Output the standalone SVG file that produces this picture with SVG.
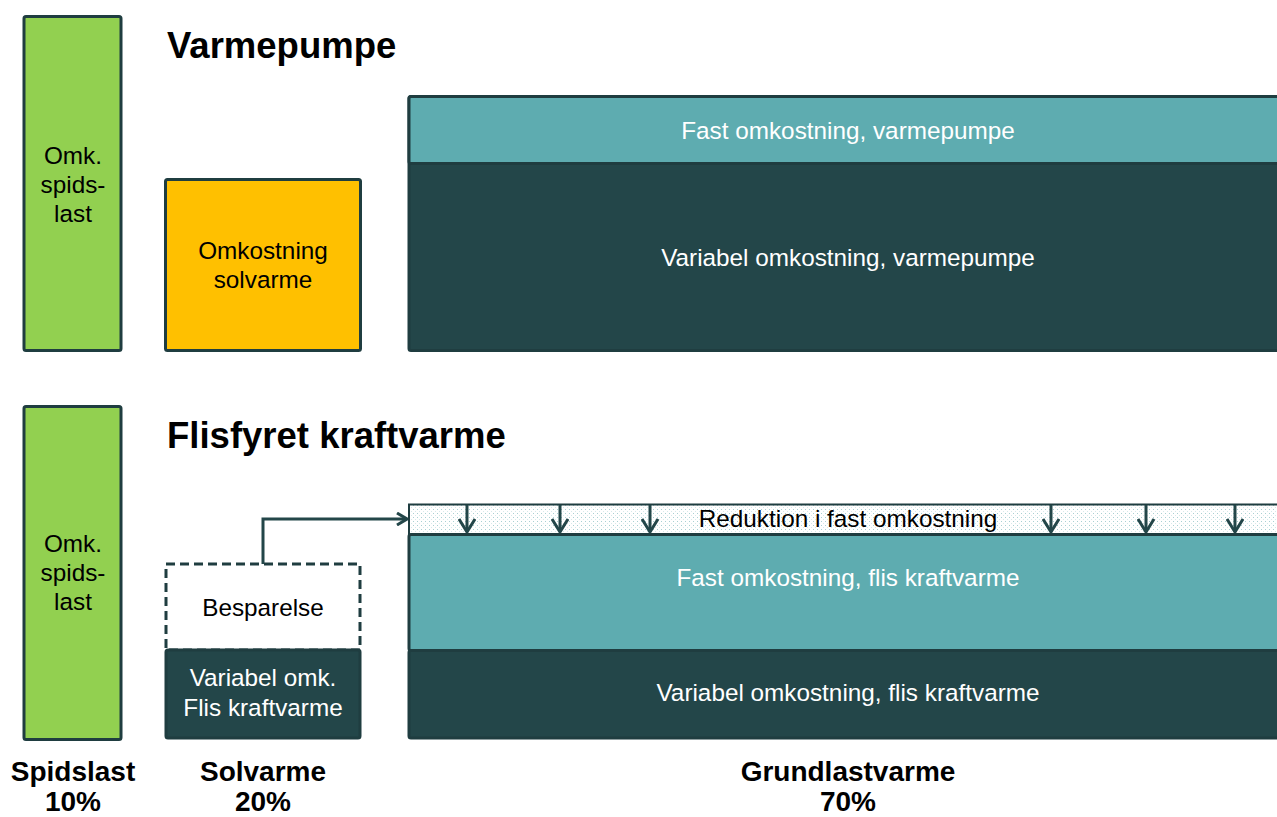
<svg xmlns="http://www.w3.org/2000/svg" width="1277" height="817" viewBox="0 0 1277 817">
<style>
.box{stroke:#1f3d40;stroke-width:3;stroke-linejoin:round}
.green{fill:#92d050}
.yellow{fill:#ffc000}
.teal{fill:#5eacb0}
.dark{fill:#234649}
.t{font-family:"Liberation Sans",Arial,sans-serif;font-size:24.3px;text-anchor:middle}
.w{fill:#ffffff}
.k{fill:#000000}
.title{font-family:"Liberation Sans",Arial,sans-serif;font-size:36.5px;font-weight:bold;fill:#000}
.lab{font-family:"Liberation Sans",Arial,sans-serif;font-size:28px;font-weight:bold;fill:#000;text-anchor:middle}
.arr{fill:none;stroke:#234649;stroke-width:3}
</style>
<defs>
<pattern id="dots" width="4" height="4" patternUnits="userSpaceOnUse">
<rect width="4" height="4" fill="#ffffff"/>
<rect x="1" y="1" width="1" height="1" fill="#a9d0d2"/>
<rect x="3" y="3" width="1" height="1" fill="#d6e9ea"/>
</pattern>
<marker id="chev" viewBox="0 0 12 14" refX="11" refY="7" markerWidth="12" markerHeight="14" markerUnits="userSpaceOnUse" orient="auto">
<path d="M1,1 L11,7 L1,13" fill="none" stroke="#234649" stroke-width="3"/>
</marker>
<marker id="chevd" viewBox="0 0 16 18" refX="15" refY="9" markerWidth="16" markerHeight="18" markerUnits="userSpaceOnUse" orient="auto">
<path d="M2,1 L15,9 L2,17" fill="none" stroke="#234649" stroke-width="3"/>
</marker>
</defs>

<g id="title-varmepumpe"><text class="title" x="167" y="58">Varmepumpe</text></g>
<g id="title-flis"><text class="title" x="167" y="448">Flisfyret kraftvarme</text></g>

<g id="vp-spidslast">
<rect class="box green" x="24" y="16.5" width="97" height="334" rx="2"/>
<text class="t k" x="73" y="164">Omk.</text>
<text class="t k" x="73" y="193">spids-</text>
<text class="t k" x="73" y="222">last</text>
</g>

<g id="vp-solvarme">
<rect class="box yellow" x="165.5" y="179.5" width="195" height="171" rx="2"/>
<text class="t k" x="263" y="259">Omkostning</text>
<text class="t k" x="263" y="288">solvarme</text>
</g>

<g id="vp-grundlast">
<rect class="box dark" x="409" y="96.5" width="880" height="254" rx="2"/>
<rect class="box teal" x="409" y="96.5" width="880" height="67" rx="2"/>
<text class="t w" x="848" y="139">Fast omkostning, varmepumpe</text>
<text class="t w" x="848" y="266">Variabel omkostning, varmepumpe</text>
</g>

<g id="fl-spidslast">
<rect class="box green" x="24" y="406.5" width="97" height="333" rx="2"/>
<text class="t k" x="73" y="552">Omk.</text>
<text class="t k" x="73" y="581">spids-</text>
<text class="t k" x="73" y="610">last</text>
</g>

<g id="fl-besparelse">
<rect x="166" y="564" width="194" height="86" fill="#ffffff" stroke="#1f3d40" stroke-width="3" stroke-dasharray="9,5"/>
<text class="t k" x="263" y="616">Besparelse</text>
</g>

<g id="fl-variabel-solvarme">
<rect class="box dark" x="166" y="650" width="194" height="88" rx="2"/>
<text class="t w" x="263" y="686">Variabel omk.</text>
<text class="t w" x="263" y="716">Flis kraftvarme</text>
</g>

<g id="fl-reduktion">
<rect x="409" y="504.5" width="880" height="30" fill="url(#dots)" stroke="#1f3d40" stroke-width="2"/>
<text class="t k" x="848" y="527">Reduktion i fast omkostning</text>
</g>

<g id="fl-fast">
<rect class="box teal" x="409" y="534.5" width="880" height="116" rx="2"/>
<text class="t w" x="848" y="586">Fast omkostning, flis kraftvarme</text>
</g>

<g id="fl-variabel">
<rect class="box dark" x="409" y="650.5" width="880" height="87.5" rx="2"/>
<text class="t w" x="848" y="701">Variabel omkostning, flis kraftvarme</text>
</g>

<g id="connectors">
<polyline class="arr" points="263,564 263,519 407,519" marker-end="url(#chev)"/>
<line class="arr" x1="467" y1="505" x2="467" y2="532" marker-end="url(#chevd)"/>
<line class="arr" x1="560" y1="505" x2="560" y2="532" marker-end="url(#chevd)"/>
<line class="arr" x1="650" y1="505" x2="650" y2="532" marker-end="url(#chevd)"/>
<line class="arr" x1="1051" y1="505" x2="1051" y2="532" marker-end="url(#chevd)"/>
<line class="arr" x1="1146" y1="505" x2="1146" y2="532" marker-end="url(#chevd)"/>
<line class="arr" x1="1235" y1="505" x2="1235" y2="532" marker-end="url(#chevd)"/>
</g>

<g id="labels">
<text class="lab" x="73" y="781">Spidslast</text>
<text class="lab" x="73" y="811">10%</text>
<text class="lab" x="263" y="781">Solvarme</text>
<text class="lab" x="263" y="811">20%</text>
<text class="lab" x="848" y="781">Grundlastvarme</text>
<text class="lab" x="848" y="811">70%</text>
</g>
</svg>
